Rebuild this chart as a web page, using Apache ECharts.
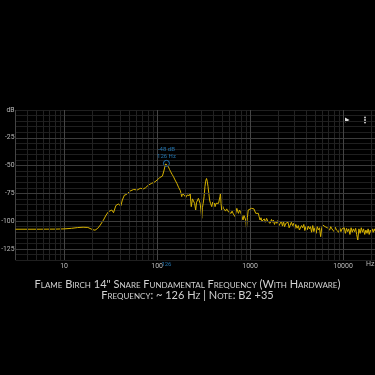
<!DOCTYPE html>
<html><head><meta charset="utf-8">
<script src="https://cdn.jsdelivr.net/npm/echarts@6/dist/echarts.min.js"></script>
<style>html,body{margin:0;background:#000}#c{width:375px;height:375px}</style>
</head><body><div id="c"></div>
<script>
const freqHz = [
 3, 5, 8, 10, 12, 14, 16, 18, 20, 21.5,
 23, 24.5, 26.5, 28.3, 30, 32.6, 34, 36, 38.3, 40.7,
 42.3, 44.5, 47, 49, 51, 53, 56, 58, 61, 63,
 66, 68.5, 71, 72.5, 75, 77.5, 80.5, 84, 87.5, 91.5,
 95, 100, 103, 107, 111, 114, 117, 119, 121, 124,
 126, 129, 132, 136, 140, 145, 150, 156, 163, 170,
 178, 184, 188, 195, 204, 210, 217, 222, 227, 230,
 233, 240, 246, 253, 260, 266, 272, 278, 284, 290,
 296, 302, 307, 313, 320, 327, 333, 340, 346, 353,
 360, 367, 375, 387, 395, 404, 414, 420, 430, 438,
 448, 458, 468, 474, 480, 487, 495, 505, 517, 530,
 545, 560, 574, 590, 610, 625, 640, 660, 690, 705,
 720, 735, 750, 770, 790, 810, 825, 840, 860, 880,
 898, 915, 935, 955, 975, 1000, 1036, 1070, 1100, 1125,
 1150, 1175, 1200, 1226, 1250, 1280, 1310, 1340, 1390, 1420,
 1460, 1505, 1550, 1600, 1640, 1700, 1740, 1780, 1830, 1880,
 1940, 1990, 2050, 2110, 2170, 2230, 2290, 2350, 2420, 2490,
 2560, 2630, 2710, 2780, 2860, 2940, 3020, 3100, 3200, 3300,
 3390, 3480, 3580, 3680, 3780, 3880, 3990, 4100, 4220, 4340,
 4460, 4590, 4720, 4850, 4990, 5130, 5280, 5430, 5580, 5740,
 5900, 6060, 6240, 6400, 6580, 6780, 6970, 7170, 7370, 7580,
 7800, 8020, 8250, 8480, 8720, 8970, 9220, 9480, 9750, 10000,
 10300, 10600, 10900, 11200, 11500, 11850, 12200, 12550, 12900, 13300,
 13650, 14000, 14400, 14800, 15250, 15700, 16150, 16600, 17100, 17600,
 18100, 18600, 19100, 19600, 20200, 20700, 21200, 21700, 22050
];
const levelDb = [
 -107.3, -107.3, -107.2, -107, -106.5, -105.8, -105.5, -105.7, -107.5, -108.2,
 -106.5, -103.5, -99, -94.5, -91.5, -90, -92.4, -86, -84.6, -86.4,
 -81, -76.6, -76, -75, -73, -71.5, -71.5, -71, -72, -71.5,
 -70.5, -69.7, -71, -71.5, -70, -69.7, -67.6, -67, -66, -65,
 -64.6, -63, -61.5, -60.8, -60, -59.5, -57.7, -54, -51.2, -48.5,
 -48, -49.5, -51, -53.5, -55.6, -58, -60, -63, -66, -69.5,
 -72.7, -78, -75, -73.6, -78.6, -76.5, -75, -77, -75, -82,
 -87, -80, -81, -84, -90, -83, -82, -79.5, -81, -84,
 -90, -97.5, -88, -84, -78, -69, -64, -61.6, -64, -69,
 -75, -81, -84, -87, -83, -86, -84, -87, -84, -85.5,
 -83, -84, -82.6, -78, -75, -84, -90, -86, -88.5, -88.5,
 -91, -89, -90, -92, -91, -93, -91, -93.5, -96, -92,
 -88.5, -91, -93, -90, -92, -94.5, -96, -99, -95, -94.5,
 -99, -106.4, -97, -90, -91, -89, -88.5, -90, -89, -90,
 -93, -94.5, -92, -93, -96, -99, -97, -100, -100.5, -98,
 -101, -97.5, -100, -99, -102, -98.5, -101, -99, -103, -100,
 -102, -99.5, -104, -103.5, -100, -104.5, -100.5, -105, -102, -103.5,
 -101, -106, -105, -101, -104, -102, -107, -103, -106.4, -104,
 -108, -109.5, -104, -106, -103, -108.5, -105, -108, -104.5, -107,
 -105, -110, -104, -109.5, -106, -111, -105, -108, -106, -114,
 -106, -103.5, -104, -105, -104.5, -106, -105, -108, -105, -107,
 -106, -109.5, -105.5, -108, -106.5, -110, -106, -109.5, -107, -108.5,
 -106, -111, -106.5, -109.5, -107, -112, -106, -110, -107, -109.5,
 -106.5, -112, -117, -107, -111, -106, -110, -107, -112, -108,
 -111, -107, -112, -108, -111, -107, -110, -107, -109
];
const peakFreqHz = [126];
const peakLevelDb = [-48];
const yMajorTicks = [-125, -100, -75, -50, -25];
const titleLines = ['Flame Birch 14" Snare Fundamental Frequency (With Hardware)', 'Frequency: ~ 126 Hz | Note: B2 +35'];
const xUnit = 'Hz';

const chart = echarts.init(document.getElementById('c'), null, {renderer: 'canvas'});
const minorX = [];
for (let e = 0; e <= 4; e++) for (let k = 2; k <= 9; k++) { const f = k * Math.pow(10, e); if (f > 3 && f < 22050) minorX.push(f); }
const blue = '#2b8fd6';
const titleFont = {color: '#d2d2d2', fontSize: 11, fontWeight: 'normal', fontStyle: 'small-caps', fontFamily: 'Lato'};
const option = {
  backgroundColor: '#000',
  animation: false,
  title: [
    {text: titleLines[0], left: 'center', top: 274, textStyle: titleFont},
    {text: titleLines[1], left: 'center', top: 285, textStyle: titleFont}
  ],
  grid: {left: 15.5, right: 0, top: 110, bottom: 115, containLabel: false, outerBoundsMode: 'none'},
  xAxis: {type: 'log', logBase: 10, min: 3, max: 22050,
    axisLine: {show: false}, axisTick: {show: false},
    splitLine: {show: true, lineStyle: {color: '#444', width: 1}},
    axisLabel: {color: '#bbb', fontSize: 7, margin: 3, showMinLabel: false, showMaxLabel: false, fontFamily: 'Roboto',
      formatter: v => String(Math.round(v))}},
  yAxis: {type: 'value', min: -135, max: 0, interval: 5,
    axisLine: {show: false}, axisTick: {show: false},
    splitLine: {lineStyle: {color: '#1f1f1f'}},
    axisLabel: {color: '#bbb', fontSize: 6.8, margin: 1, fontFamily: 'Roboto',
      formatter: v => v === 0 ? 'dB' : (v % 25 === 0 ? String(v) : '')}},
  graphic: [
    {type: 'text', left: 366, top: 261, style: {text: xUnit, fill: '#bbb', fontSize: 7, fontFamily: 'Roboto'}},
    {type: 'polygon', shape: {points: [[345, 117.5], [349.5, 120], [345, 122.5]]}, style: {fill: '#ddd'}},
    {type: 'circle', shape: {cx: 365, cy: 117.5, r: 0.9}, style: {fill: '#ddd'}},
    {type: 'circle', shape: {cx: 365, cy: 120, r: 0.9}, style: {fill: '#ddd'}},
    {type: 'circle', shape: {cx: 365, cy: 122.5, r: 0.9}, style: {fill: '#ddd'}}
  ],
  series: [
    {type: 'line', data: [], z: 1, silent: true,
      markLine: {silent: true, symbol: 'none', label: {show: false}, animation: false,
        data: minorX.map(f => ({xAxis: f, lineStyle: {color: '#222', width: 1, type: 'solid'}}))
          .concat(yMajorTicks.map(v => ({yAxis: v, lineStyle: {color: '#3c3c3c', width: 1, type: 'solid'}})))}},
    {type: 'line', z: 3, showSymbol: false, silent: true,
      data: freqHz.map((f, i) => [f, levelDb[i]]),
      lineStyle: {color: '#d6b200', width: 1}},
    {type: 'scatter', z: 4, symbol: 'circle', symbolSize: 6, silent: true,
      data: peakFreqHz.map((f, i) => [f, peakLevelDb[i]]),
      itemStyle: {color: 'rgba(0,0,0,0)', borderColor: blue, borderWidth: 1},
      label: {show: true, position: 'top', distance: 0, color: blue, fontSize: 6, lineHeight: 7, fontFamily: 'Roboto',
        formatter: p => p.value[1] + ' dB\n' + p.value[0] + ' Hz'}},
    {type: 'scatter', z: 4, symbolSize: 0, silent: true,
      data: peakFreqHz.map(f => [f, -135]),
      label: {show: true, position: 'bottom', distance: 1, color: blue, fontSize: 6, fontFamily: 'Roboto',
        formatter: p => String(p.value[0])}}
  ]
};
chart.setOption(option);
</script></body></html>
